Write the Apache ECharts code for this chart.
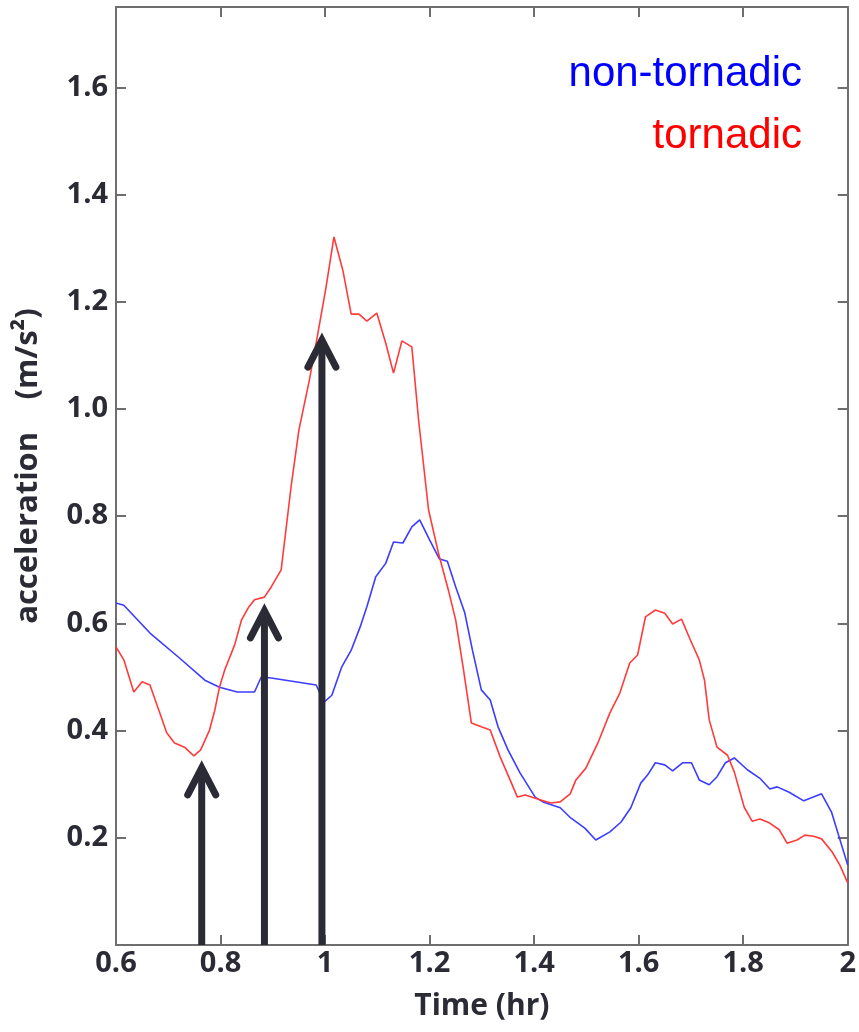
<!DOCTYPE html>
<html>
<head>
<meta charset="utf-8">
<title>Acceleration vs time</title>
<script src="https://cdn.jsdelivr.net/npm/echarts@6/dist/echarts.min.js"></script>
<style>
  html, body { margin: 0; padding: 0; background: #ffffff; }
  #chart { width: 859px; height: 1032px; }
</style>
</head>
<body>
<div id="chart"></div>
<script>
// Non-tornadic storm: time (hr) and acceleration (m/s^2)
const timeNon = [0.600, 0.615, 0.665, 0.722, 0.770, 0.798, 0.832, 0.865, 0.878, 0.897,
  0.983, 0.998, 1.013, 1.032, 1.050, 1.067, 1.080, 1.097, 1.116, 1.131,
  1.149, 1.166, 1.181, 1.200, 1.219, 1.234, 1.250, 1.267, 1.282, 1.299,
  1.316, 1.331, 1.350, 1.373, 1.402, 1.417, 1.450, 1.470, 1.497, 1.518,
  1.545, 1.566, 1.585, 1.604, 1.617, 1.632, 1.650, 1.665, 1.684, 1.701,
  1.716, 1.735, 1.750, 1.766, 1.783, 1.808, 1.832, 1.851, 1.865, 1.888,
  1.916, 1.950, 1.969, 2.000];
const accelNon = [0.638, 0.634, 0.582, 0.535, 0.494, 0.481, 0.472, 0.472, 0.500, 0.498,
  0.485, 0.453, 0.466, 0.519, 0.550, 0.593, 0.631, 0.687, 0.712, 0.752,
  0.750, 0.780, 0.793, 0.756, 0.720, 0.716, 0.668, 0.621, 0.550, 0.476,
  0.457, 0.407, 0.364, 0.321, 0.276, 0.267, 0.256, 0.237, 0.218, 0.196,
  0.211, 0.229, 0.256, 0.302, 0.317, 0.340, 0.336, 0.325, 0.340, 0.340,
  0.308, 0.299, 0.314, 0.340, 0.349, 0.327, 0.311, 0.291, 0.295, 0.285,
  0.269, 0.282, 0.248, 0.149];

// Tornadic storm: time (hr) and acceleration (m/s^2)
const timeTor = [0.600, 0.615, 0.634, 0.650, 0.665, 0.682, 0.697, 0.712, 0.731, 0.749,
  0.762, 0.779, 0.789, 0.798, 0.808, 0.827, 0.840, 0.853, 0.865, 0.884,
  0.897, 0.916, 0.935, 0.950, 0.970, 0.985, 1.002, 1.017, 1.034, 1.050,
  1.065, 1.080, 1.099, 1.116, 1.131, 1.147, 1.166, 1.179, 1.198, 1.217,
  1.236, 1.250, 1.265, 1.280, 1.299, 1.316, 1.335, 1.354, 1.368, 1.383,
  1.408, 1.432, 1.450, 1.469, 1.480, 1.499, 1.522, 1.545, 1.564, 1.583,
  1.598, 1.613, 1.632, 1.650, 1.665, 1.682, 1.699, 1.716, 1.726, 1.735,
  1.750, 1.770, 1.783, 1.802, 1.817, 1.832, 1.850, 1.869, 1.884, 1.903,
  1.918, 1.935, 1.950, 1.970, 1.985, 2.000];
const accelTor = [0.556, 0.532, 0.472, 0.491, 0.485, 0.438, 0.396, 0.377, 0.369, 0.353,
  0.364, 0.401, 0.438, 0.481, 0.513, 0.560, 0.606, 0.629, 0.644, 0.649,
  0.668, 0.700, 0.855, 0.961, 1.054, 1.134, 1.228, 1.321, 1.259, 1.177,
  1.177, 1.164, 1.179, 1.123, 1.067, 1.127, 1.116, 0.979, 0.812, 0.731,
  0.662, 0.606, 0.513, 0.414, 0.407, 0.401, 0.351, 0.308, 0.276, 0.280,
  0.272, 0.265, 0.267, 0.282, 0.308, 0.330, 0.377, 0.433, 0.470, 0.526,
  0.541, 0.612, 0.625, 0.619, 0.599, 0.608, 0.569, 0.532, 0.494, 0.420,
  0.369, 0.354, 0.323, 0.257, 0.231, 0.235, 0.228, 0.215, 0.190, 0.196,
  0.205, 0.203, 0.198, 0.174, 0.149, 0.116];

// Event markers: arrows rising from the time axis
const arrowTimes = [0.764, 0.884, 0.994];
const arrowTips = [0.336, 0.629, 1.134];

// Axis tick labels
const xTickLabels = ['0.6', '0.8', '1', '1.2', '1.4', '1.6', '1.8', '2'];
const yTickLabels = ['0.2', '0.4', '0.6', '0.8', '1.0', '1.2', '1.4', '1.6'];

const seriesNames = ['non-tornadic', 'tornadic'];
const INK = '#2b2b36';
const AXIS = '#6e6e6e';
const BLUE = '#3c3cff';
const RED = '#ff3b3b';

const zip = (xs, ys) => xs.map((x, i) => [x, ys[i]]);

const tickFont = {
  fontFamily: '"Open Sans", sans-serif',
  fontWeight: 'bold',
  fontSize: 29,
  color: INK
};

function baseX(extra) {
  return Object.assign({
    type: 'value', min: 0.6, max: 2.0, interval: 0.2,
    axisLine: { show: true, onZero: false, lineStyle: { color: AXIS, width: 2 } },
    axisTick: { show: true, inside: true, length: 10, lineStyle: { color: AXIS, width: 2 } },
    splitLine: { show: false }
  }, extra);
}
function baseY(extra) {
  return Object.assign({
    type: 'value', min: 0, max: 1.75, interval: 0.2,
    axisLine: { show: true, onZero: false, lineStyle: { color: AXIS, width: 2 } },
    axisTick: { show: true, inside: true, length: 10, lineStyle: { color: AXIS, width: 2 } },
    splitLine: { show: false }
  }, extra);
}

// Vertical arrow: shaft from the time axis up to the tip value, with an open chevron head
function renderArrow(params, api) {
  const t = api.value(0);
  const tip = api.value(1);
  const base = api.coord([t, 0]);
  const top = api.coord([t, tip]);
  const apexY = top[1] + 3;
  const hw = 14, hh = 27;
  const style = { stroke: INK, lineWidth: 7, fill: null };
  return {
    type: 'group',
    children: [
      { type: 'line', shape: { x1: base[0], y1: base[1], x2: top[0], y2: apexY + 3 }, style: style },
      {
        type: 'polyline',
        shape: { points: [[top[0] - hw, apexY + hh], [top[0], apexY], [top[0] + hw, apexY + hh]] },
        style: Object.assign({ lineCap: 'round', lineJoin: 'miter' }, style)
      }
    ]
  };
}

const chart = echarts.init(document.getElementById('chart'), null, { renderer: 'canvas' });

chart.setOption({
  animation: false,
  backgroundColor: '#ffffff',
  grid: { left: 116, right: 8, top: 7, bottom: 87, containLabel: false },
  xAxis: [
    baseX({
      position: 'bottom',
      name: 'Time (hr)',
      nameLocation: 'middle',
      nameGap: 46,
      nameTextStyle: { fontFamily: '"Open Sans", sans-serif', fontWeight: 'bold', fontSize: 30, color: INK },
      axisLabel: Object.assign({
        margin: 4,
        formatter: v => {
          const s = String(+v.toFixed(1));
          return xTickLabels.includes(s) ? s : '';
        }
      }, tickFont)
    }),
    baseX({ position: 'top', axisLabel: { show: false } })
  ],
  yAxis: [
    baseY({
      position: 'left',
      name: 'acceleration    (m/s²)',
      nameLocation: 'middle',
      nameGap: 72,
      nameTextStyle: {
        fontFamily: '"Open Sans", sans-serif', fontWeight: 'bold', fontSize: 31, color: INK,
        padding: [0, 0, 0, 20]
      },
      axisLabel: Object.assign({
        margin: 8,
        formatter: v => {
          const s = v.toFixed(1);
          return yTickLabels.includes(s) ? s : '';
        }
      }, tickFont)
    }),
    baseY({ position: 'right', axisLabel: { show: false } })
  ],
  graphic: [
    {
      type: 'text', right: 57, top: 53,
      style: { text: seriesNames[0], fill: '#0000ff', font: '42px "Liberation Sans", Arial, sans-serif' }
    },
    {
      type: 'text', right: 57, top: 115,
      style: { text: seriesNames[1], fill: '#ff0000', font: '42px "Liberation Sans", Arial, sans-serif' }
    }
  ],
  series: [
    {
      name: seriesNames[0], type: 'line', xAxisIndex: 0, yAxisIndex: 0,
      data: zip(timeNon, accelNon), showSymbol: false, symbol: 'none',
      lineStyle: { color: BLUE, width: 1.6 }, z: 3
    },
    {
      name: seriesNames[1], type: 'line', xAxisIndex: 0, yAxisIndex: 0,
      data: zip(timeTor, accelTor), showSymbol: false, symbol: 'none',
      lineStyle: { color: RED, width: 1.6 }, z: 3
    },
    {
      name: 'events', type: 'custom', xAxisIndex: 0, yAxisIndex: 0,
      data: zip(arrowTimes, arrowTips), renderItem: renderArrow, z: 5, silent: true
    }
  ]
});
</script>
</body>
</html>
